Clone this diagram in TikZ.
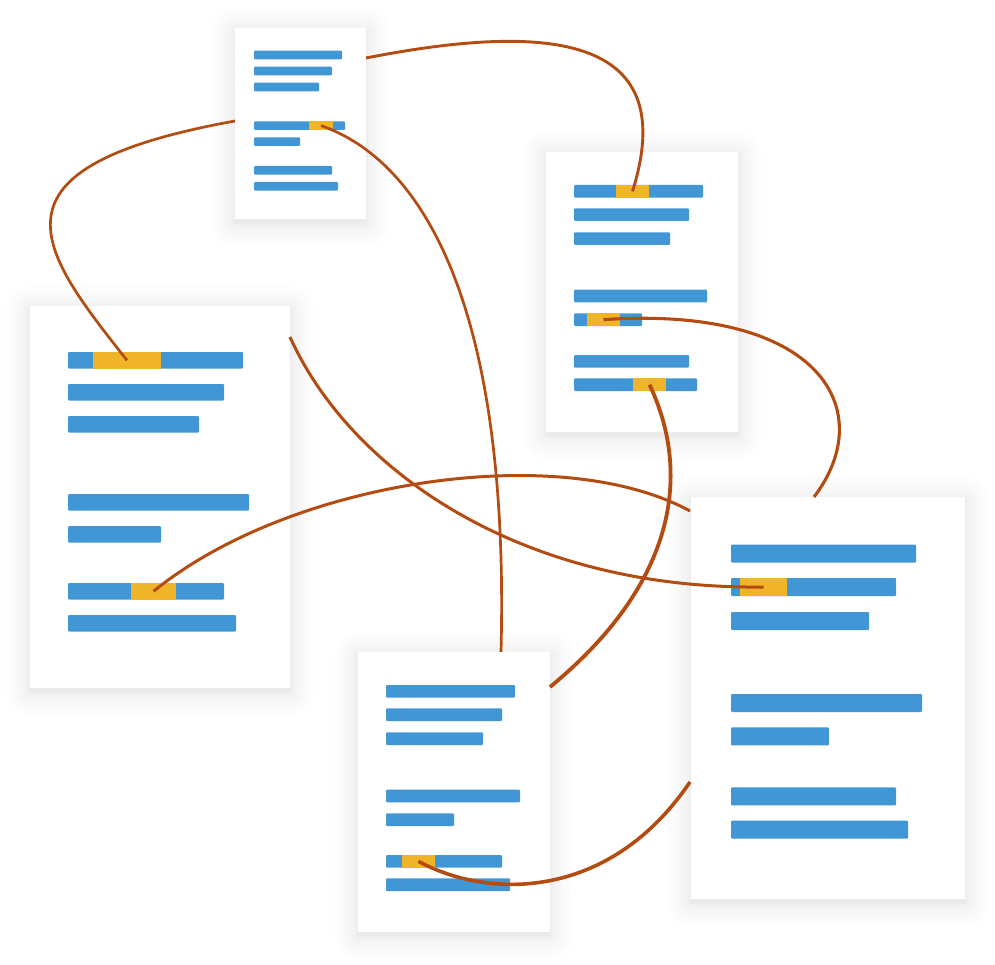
\documentclass[tikz,border=0pt]{standalone}
\definecolor{barblue}{RGB}{65,151,213}
\definecolor{hlyellow}{RGB}{240,180,41}
\definecolor{linkbrown}{RGB}{180,76,18}
\tikzset{
  barfill/.style={fill=barblue, rounded corners=1pt},
  hl/.style={fill=hlyellow, inner sep=0pt, outer sep=0pt, draw=none},
  link/.style={draw=linkbrown, line width=2.9pt},
  thicklink/.style={draw=linkbrown, line width=3.8pt},
  pagefill/.style={fill=white},
  shadowlayer/.style={fill=black, opacity=0.005},
}
\newcommand{\papershadow}[4]{%
  \foreach \i in {1,...,20}{\pgfmathsetmacro{\ext}{\i*\i/16}\fill[shadowlayer, rounded corners=\ext pt] ({#1-\ext},{#2-\ext+3}) rectangle ({#3+\ext},{#4+\ext+4});}%
}
\newcommand{\linebar}[4]{\fill[barfill] (#1,#2) rectangle (#3,#4);}
\begin{document}
\begin{tikzpicture}[x=1pt,y=-1pt]
\fill[white] (0,0) rectangle (995,965);
\useasboundingbox (0,0) rectangle (995,965);

% shadows
\papershadow{235}{28}{366}{219}
\papershadow{546}{152}{738}{432}
\papershadow{30}{306}{290}{688}
\papershadow{358}{652}{550}{932}
\papershadow{691}{497}{965}{899}

% pages
\fill[pagefill] (235,28) rectangle (366,219);
\fill[pagefill] (546,152) rectangle (738,432);
\fill[pagefill] (30,306) rectangle (290,688);
\fill[pagefill] (358,652) rectangle (550,932);
\fill[pagefill] (691,497) rectangle (965,899);

% page 1 bars
\linebar{254}{50.7}{342}{59.3}
\linebar{254}{66.7}{332}{75.3}
\linebar{254}{82.7}{319}{91.3}
\linebar{254}{121.3}{345}{130}
\linebar{254}{137.3}{300}{146}
\linebar{254}{166}{332}{174.7}
\linebar{254}{182}{338}{190.7}
\node[hl, minimum width=24pt, minimum height=8.7pt] (h1) at (321,125.65) {};

% page 2 bars
\linebar{574}{185}{703}{197.7}
\linebar{574}{208.3}{689}{221}
\linebar{574}{232.3}{670}{245}
\linebar{574}{289.7}{707}{302.3}
\linebar{574}{313.3}{642}{326}
\linebar{574}{355}{689}{367.7}
\linebar{574}{378.3}{697}{391}
\node[hl, minimum width=33pt, minimum height=12.7pt] (h2) at (632.5,191.35) {};
\node[hl, minimum width=33pt, minimum height=12.7pt] (h3) at (603.5,319.65) {};
\node[hl, minimum width=33pt, minimum height=12.7pt] (h4) at (649.5,384.65) {};

% page 3 bars
\linebar{68}{352}{243}{368.7}
\linebar{68}{384}{224}{400.7}
\linebar{68}{416}{199}{432.7}
\linebar{68}{494}{249}{510.7}
\linebar{68}{526}{161}{542.7}
\linebar{68}{583}{224}{599.7}
\linebar{68}{615}{236}{631.7}
\node[hl, minimum width=68pt, minimum height=16.7pt] (h5) at (127,360.35) {};
\node[hl, minimum width=45pt, minimum height=16.7pt] (h6) at (153.5,591.35) {};

% page 4 bars
\linebar{386}{685}{515}{697.7}
\linebar{386}{708.3}{502}{721}
\linebar{386}{732.3}{483}{745}
\linebar{386}{789.7}{520}{802.3}
\linebar{386}{813.3}{454}{826}
\linebar{386}{855}{502}{867.7}
\linebar{386}{878.3}{510}{891}
\node[hl, minimum width=33pt, minimum height=12.7pt] (h7) at (418.5,861.35) {};

% page 5 bars
\linebar{731}{544.7}{916}{562.7}
\linebar{731}{578}{896}{596}
\linebar{731}{612}{869}{630}
\linebar{731}{694}{922}{712}
\linebar{731}{727.3}{829}{745.3}
\linebar{731}{787.3}{896}{805.3}
\linebar{731}{820.7}{908}{838.7}
\node[hl, minimum width=47pt, minimum height=18pt] (h8) at (763.5,587) {};

% edge points
\coordinate (e1) at (235,121);
\coordinate (e2) at (366,58);
\coordinate (e3) at (501,652);
\coordinate (e4) at (814,497);
\coordinate (e5) at (550,687);
\coordinate (e6) at (290,337);
\coordinate (e7) at (690,511);
\coordinate (e8) at (690,782);

% connectors
\draw[link, line width=2.7pt] (e1) .. controls (-25,168) and (40,250) .. (h5.center);
\draw[link] (e2) .. controls (560,20) and (680,40) .. (h2.center);
\draw[link, line width=2.7pt] (h1.center) .. controls (420,160) and (510,300) .. (e3);
\draw[link, line width=3.1pt] (h3.center) .. controls (820,305) and (880,410) .. (e4);
\draw[thicklink] (h4.center) .. controls (690,470) and (680,580) .. (e5);
\draw[link, line width=3pt] (e6) .. controls (350,470) and (520,590) .. (h8.center);
\draw[link, line width=3pt] (h6.center) .. controls (290,480) and (560,440) .. (e7);
\draw[thicklink, line width=3.6pt] (h7.center) .. controls (490,900) and (610,900) .. (e8);
\end{tikzpicture}
\end{document}
